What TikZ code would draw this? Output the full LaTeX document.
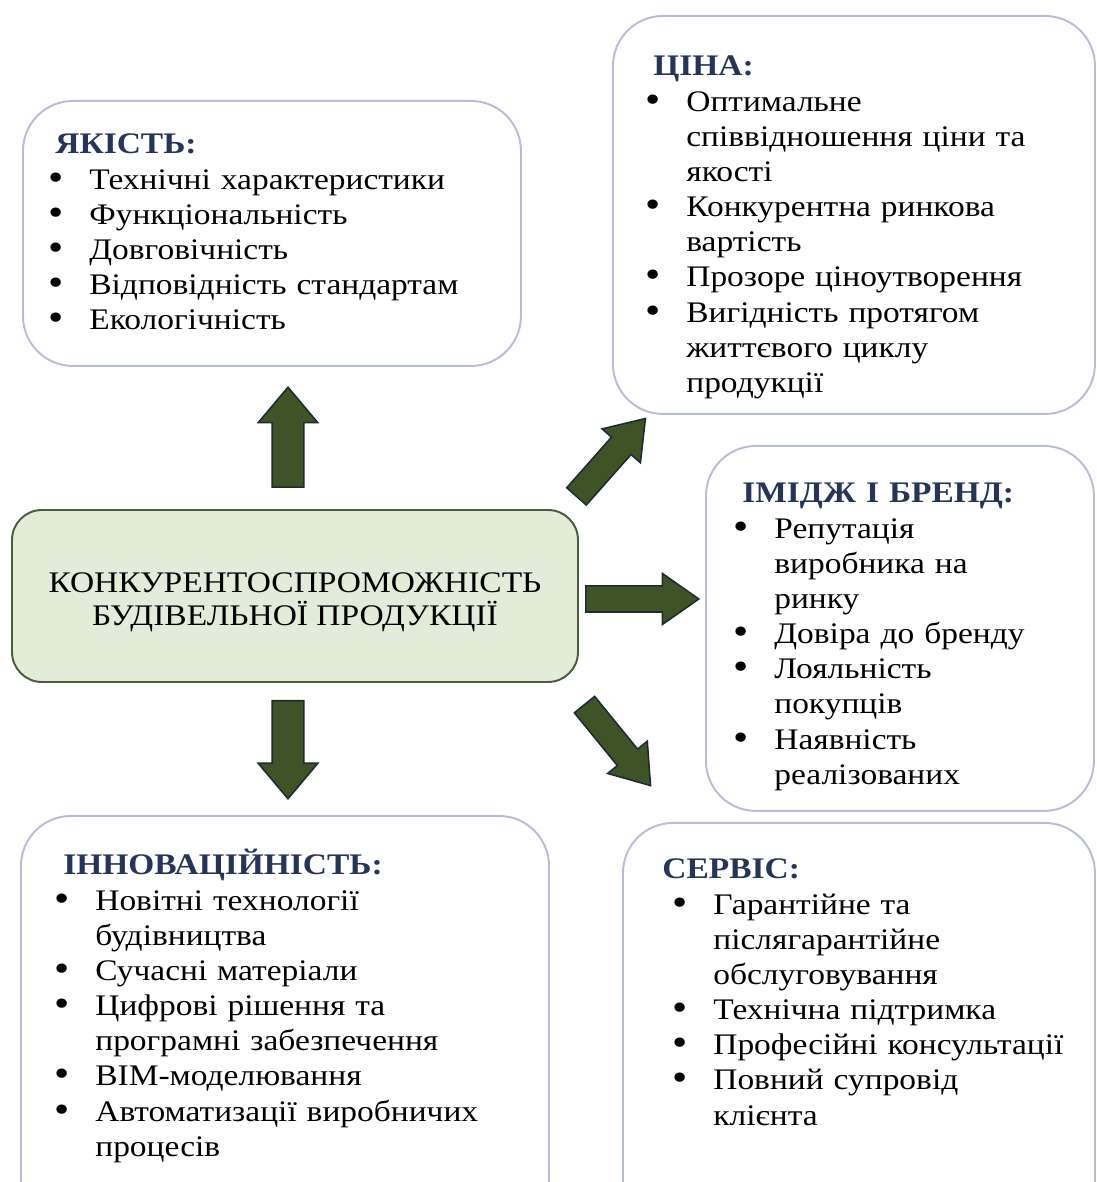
\documentclass[tikz,border=0pt]{standalone}
\usepackage{fontspec}
\setmainfont[FakeStretch=1.12]{Liberation Serif}
\usepackage{graphicx}
\usepackage{enumitem}
\usetikzlibrary{shapes.arrows, positioning}
\definecolor{boxline}{HTML}{B7BDD6}
\definecolor{corefill}{HTML}{E2ECD8}
\definecolor{coreline}{HTML}{4A5D3B}
\definecolor{arrfill}{HTML}{3E5426}
\definecolor{arrline}{HTML}{1F2B33}
\definecolor{headblue}{HTML}{243559}

\newcommand{\boxhead}[2][0cm]{\hspace*{#1}{\bfseries\color{headblue}#2}\par}
\newcommand{\bigdot}{\raisebox{-0.08ex}{\scalebox{1.3}{\textbullet}}}
\newenvironment{pointlist}{\begin{itemize}[label=\bigdot, leftmargin=0.82cm,
    labelwidth=0.82cm, labelsep=0pt, align=left, itemsep=0pt, parsep=0pt,
    topsep=0pt, partopsep=0pt]}{\end{itemize}}

\begin{document}
\begin{tikzpicture}[
    every node/.style={font=\rmfamily},
    softbox/.style={rectangle, rounded corners=1cm, draw=boxline, line width=1.1pt, fill=white, inner sep=0pt, anchor=north west},
    corebox/.style={rectangle, rounded corners=0.6cm, draw=coreline, line width=1.1pt, fill=corefill, inner sep=0pt, align=center, font=\rmfamily\fontsize{17}{18.5}\selectfont},
    listtext/.style={inner sep=0pt, text width=9cm, align=left, font=\rmfamily\fontsize{17}{20}\selectfont, anchor=base west},
    bigarrow/.style={single arrow, draw=arrline, fill=arrfill, line width=0.9pt, inner xsep=0pt, inner ysep=0.3cm, single arrow head extend=0.28cm, single arrow tip angle=80, anchor=tail},
    smallarrow/.style={bigarrow, inner ysep=0.245cm, single arrow head extend=0.25cm, single arrow tip angle=70},
]
\useasboundingbox (0,0) rectangle (21.94,23.64);

% ============================================================ the five groups of factors
\node[softbox, minimum width=9.96cm, minimum height=5.30cm] (quality) at (0.44, 21.64) {};
\node[softbox, minimum width=9.64cm, minimum height=7.96cm] (price) at (12.24, 23.34) {};
\node[softbox, minimum width=7.76cm, minimum height=7.30cm] (brand) at (14.10, 14.74) {};
\node[softbox, minimum width=10.56cm, minimum height=8.30cm] (innov) at (0.40, 7.34) {};
\node[softbox, minimum width=9.44cm, minimum height=8.20cm] (service) at (12.44, 7.20) {};

\node[listtext] (qualityTxt) at (0.96, 20.56) {%
    \boxhead[0.14cm]{ЯКІСТЬ:}
    \begin{pointlist}
    \item Технічні характеристики
    \item Функціональність
    \item Довговічність
    \item Відповідність стандартам
    \item Екологічність
    \end{pointlist}};

\node[listtext] (priceTxt) at (12.90, 22.12) {%
    \boxhead[0.16cm]{ЦІНА:}
    \begin{pointlist}
    \item Оптимальне\newline співвідношення ціни та\newline якості
    \item Конкурентна ринкова\newline вартість
    \item Прозоре ціноутворення
    \item Вигідність протягом\newline життєвого циклу\newline продукції
    \end{pointlist}};

\node[listtext] (brandTxt) at (14.66, 13.58) {%
    \boxhead[0.18cm]{ІМІДЖ І БРЕНД:}
    \begin{pointlist}
    \item Репутація\newline виробника на\newline ринку
    \item Довіра до бренду
    \item Лояльність\newline покупців
    \item Наявність\newline реалізованих
    \end{pointlist}};

\node[listtext] (innovTxt) at (1.08, 6.14) {%
    \boxhead[0.18cm]{ІННОВАЦІЙНІСТЬ:}
    \begin{pointlist}
    \item Новітні технології\newline будівництва
    \item Сучасні матеріали
    \item Цифрові рішення та\newline програмні забезпечення
    \item BIM-моделювання
    \item Автоматизації виробничих\newline процесів
    \end{pointlist}};

\node[listtext] (serviceTxt) at (13.44, 6.06) {%
    \boxhead[-0.20cm]{СЕРВІС:}
    \begin{pointlist}
    \item Гарантійне та\newline післягарантійне\newline обслуговування
    \item Технічна підтримка
    \item Професійні консультації
    \item Повний супровід\newline клієнта
    \end{pointlist}};

% ============================================================ the core
\node[corebox, minimum width=11.32cm, minimum height=3.44cm] (core) at (5.90, 11.72)
    {\rule{0pt}{0.64cm}КОНКУРЕНТОСПРОМОЖНІСТЬ\\ БУДІВЕЛЬНОЇ ПРОДУКЦІЇ};

% block arrows going out of the core, placed by their tails
\node[bigarrow, minimum height=2.00cm, rotate=90] (arrUp) at (5.76, 13.88) {};
\node[bigarrow, minimum height=1.96cm, rotate=-90] (arrDown) at (5.76, 9.64) {};
\node[smallarrow, minimum height=2.26cm] (arrRight) at (11.70, 11.66) {};
\node[smallarrow, minimum height=2.08cm, rotate=48.5] (arrNE) at (11.52, 13.70) {};
\node[smallarrow, minimum height=2.09cm, rotate=-50.8] (arrSE) at (11.68, 9.56) {};

\end{tikzpicture}
\end{document}
